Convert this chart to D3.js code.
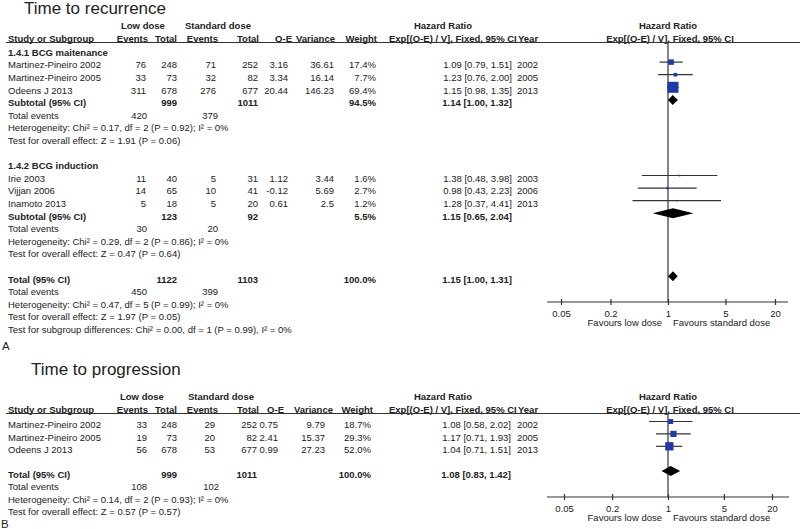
<!DOCTYPE html>
<html><head><meta charset="utf-8">
<script src="https://cdn.jsdelivr.net/npm/d3@7"></script>
<style>body{margin:0;background:#fff}</style>
</head><body>
<svg id="c" width="800" height="529"></svg>
<script>
// ---------- Panel A data: Time to recurrence ----------
const studyA   = ["Martinez-Pineiro 2002","Martinez-Pineiro 2005","Odeens J 2013","Irie 2003","Vijjan 2006","Inamoto 2013"];
const groupA   = [0,0,0,1,1,1];
const lowEvA   = [76,33,311,11,14,5];
const lowTotA  = [248,73,678,40,65,18];
const stdEvA   = [71,32,276,5,10,5];
const stdTotA  = [252,82,677,31,41,20];
const oeA      = ["3.16","3.34","20.44","1.12","-0.12","0.61"];
const varA     = ["36.61","16.14","146.23","3.44","5.69","2.5"];
const weightA  = [17.4,7.7,69.4,1.6,2.7,1.2];
const hrA      = [1.09,1.23,1.15,1.38,0.98,1.28];
const loA      = [0.79,0.76,0.98,0.48,0.43,0.37];
const hiA      = [1.51,2.00,1.35,3.98,2.23,4.41];
const yearA    = [2002,2005,2013,2003,2006,2013];
const subNameA   = ["1.4.1 BCG maitenance","1.4.2 BCG induction"];
const subLowTotA = [999,123];
const subStdTotA = [1011,92];
const subWeightA = [94.5,5.5];
const subHrA     = [1.14,1.15];
const subLoA     = [1.00,0.65];
const subHiA     = [1.32,2.04];
const subLowEvA  = [420,30];
const subStdEvA  = [379,20];
const subHetA    = ["Heterogeneity: Chi² = 0.17, df = 2 (P = 0.92); I² = 0%","Heterogeneity: Chi² = 0.29, df = 2 (P = 0.86); I² = 0%"];
const subTestA   = ["Test for overall effect: Z = 1.91 (P = 0.06)","Test for overall effect: Z = 0.47 (P = 0.64)"];
const totTotalsA = [1122,1103];
const totEventsA = [450,399];
const totHrA     = [1.15,1.00,1.31];
const totWeightA = 100.0;
const totTextA   = ["Heterogeneity: Chi² = 0.47, df = 5 (P = 0.99); I² = 0%","Test for overall effect: Z = 1.97 (P = 0.05)","Test for subgroup differences: Chi² = 0.00, df = 1 (P = 0.99), I² = 0%"];

// ---------- Panel B data: Time to progression ----------
const studyB   = ["Martinez-Pineiro 2002","Martinez-Pineiro 2005","Odeens J 2013"];
const lowEvB   = [33,19,56];
const lowTotB  = [248,73,678];
const stdEvB   = [29,20,53];
const stdTotB  = [252,82,677];
const oeB      = ["0.75","2.41","0.99"];
const varB     = ["9.79","15.37","27.23"];
const weightB  = [18.7,29.3,52.0];
const hrB      = [1.08,1.17,1.04];
const loB      = [0.58,0.71,0.71];
const hiB      = [2.02,1.93,1.51];
const yearB    = [2002,2005,2013];
const totTotalsB = [999,1011];
const totEventsB = [108,102];
const totHrB     = [1.08,0.83,1.42];
const totWeightB = 100.0;
const totTextB   = ["Heterogeneity: Chi² = 0.14, df = 2 (P = 0.93); I² = 0%","Test for overall effect: Z = 0.57 (P = 0.57)"];

const tickVals = [0.05,0.2,1,5,20];

// ---------- drawing ----------
const svg = d3.select("#c");
const FONT = "'Liberation Sans', Arial, Helvetica, sans-serif";
const INK = "#222", LINE = "#333", BLUE = "#1f3aa6";
const f2 = d3.format(".2f");
const hrText = (h,l,u) => `${f2(h)} [${f2(l)}, ${f2(u)}]`;
const wText = w => d3.format(".1f")(w) + "%";

function txt(x, y, s, o = {}) {
  return svg.append("text").attr("x", x).attr("y", y).attr("dy", "0.35em")
    .attr("text-anchor", o.anchor || "start")
    .attr("font-weight", o.bold ? "bold" : "normal")
    .attr("font-size", o.size || 9.5)
    .attr("font-family", FONT).attr("fill", INK).text(s);
}

function header(L) {
  const c = L.hc;
  txt(L.lowX, L.h1, "Low dose", {bold:true});
  txt(L.stdX, L.h1, "Standard dose", {bold:true});
  txt(443, L.h1, "Hazard Ratio", {bold:true, anchor:"middle"});
  txt(668, L.h1, "Hazard Ratio", {bold:true, anchor:"middle"});
  txt(8, L.h2, "Study or Subgroup", {bold:true});
  txt(c.lowEv, L.h2, "Events", {bold:true, anchor:"end"});
  txt(c.lowTot, L.h2, "Total", {bold:true, anchor:"end"});
  txt(c.stdEv, L.h2, "Events", {bold:true, anchor:"end"});
  txt(c.stdTot, L.h2, "Total", {bold:true, anchor:"end"});
  txt(c.oe, L.h2, "O-E", {bold:true, anchor:"end"});
  txt(c.vr, L.h2, "Variance", {bold:true, anchor:"end"});
  txt(c.w, L.h2, "Weight", {bold:true, anchor:"end"});
  txt(389, L.h2, "Exp[(O-E) / V], Fixed, 95% CI", {bold:true});
  txt(518, L.h2, "Year", {bold:true});
  txt(670, L.h2, "Exp[(O-E) / V], Fixed, 95% CI", {bold:true, anchor:"middle"});
  svg.append("line").attr("x1", 6).attr("x2", 800).attr("y1", L.rule).attr("y2", L.rule)
    .attr("stroke", LINE).attr("stroke-width", 1.1);
}

function studyRow(L, x, y, d) {
  const c = L.col;
  txt(8, y, d.name);
  txt(c.lowEv, y, d.lowEv, {anchor:"end"});
  txt(c.lowTot, y, d.lowTot, {anchor:"end"});
  txt(c.stdEv, y, d.stdEv, {anchor:"end"});
  txt(c.stdTot, y, d.stdTot, {anchor:"end"});
  txt(c.oe, y, d.oe, {anchor:"end"});
  txt(c.vr, y, d.vr, {anchor:"end"});
  txt(c.w, y, wText(d.w), {anchor:"end"});
  txt(c.hr, y, hrText(d.hr, d.lo, d.hi), {anchor:"end"});
  txt(c.yr, y, d.year);
  const ym = y + L.markOff;
  svg.append("line").attr("x1", x(d.lo)).attr("x2", x(d.hi)).attr("y1", ym).attr("y2", ym)
    .attr("stroke", LINE).attr("stroke-width", 1.2);
  const s = L.sq(d.w);
  svg.append("rect").attr("x", x(d.hr) - s/2).attr("y", ym - s/2).attr("width", s).attr("height", s)
    .attr("fill", BLUE);
}

function pooledRow(L, x, y, label, lowTot, stdTot, w, h, l, u) {
  const c = L.col;
  txt(8, y, label, {bold:true});
  txt(c.lowTot, y, lowTot, {bold:true, anchor:"end"});
  txt(c.stdTot, y, stdTot, {bold:true, anchor:"end"});
  txt(c.w, y, wText(w), {bold:true, anchor:"end"});
  txt(c.hr, y, hrText(h, l, u), {bold:true, anchor:"end"});
  const ym = y + L.markOff, hh = 5;
  svg.append("path")
    .attr("d", `M${x(l)},${ym}L${x(h)},${ym-hh}L${x(u)},${ym}L${x(h)},${ym+hh}Z`)
    .attr("fill", "#000");
}

function eventsRow(L, y, a, b) {
  txt(8, y, "Total events");
  txt(L.col.evTotLow, y, a, {anchor:"end"});
  txt(L.col.evTotStd, y, b, {anchor:"end"});
}

function axis(L, x) {
  svg.append("line").attr("x1", x(1)).attr("x2", x(1)).attr("y1", L.rule).attr("y2", L.axisY)
    .attr("stroke", LINE).attr("stroke-width", 1.2);
  const g = svg.append("g").attr("transform", `translate(0,${L.axisY})`)
    .call(d3.axisBottom(x).tickValues(tickVals).tickFormat(d => String(d))
      .tickSize(3).tickPadding(5).tickSizeOuter(0));
  g.select(".domain").attr("d", `M${L.axisExt[0]},0H${L.axisExt[1]}`)
    .attr("stroke", LINE).attr("stroke-width", 1.2);
  g.selectAll(".tick line").attr("y1", -3).attr("y2", 3).attr("stroke", LINE).attr("stroke-width", 1.2);
  g.selectAll(".tick text").attr("font-family", FONT).attr("font-size", 9.5).attr("fill", INK);
  txt(x(1) - 6, L.axisY + 21, "Favours low dose", {anchor:"end"});
  txt(x(1) + 5, L.axisY + 21, "Favours standard dose");
}

// ---------- Panel A ----------
const LA = {
  lowX:121, stdX:185, h1:26, h2:38.5, rule:42.5, axisY:302, axisExt:[547,788], markOff:-3,
  hc:{lowEv:148, lowTot:177, stdEv:218, stdTot:259, oe:292, vr:335, w:377},
  col:{lowEv:146, lowTot:177, stdEv:216, stdTot:258, oe:288, vr:334, w:376, hr:512, yr:517, evTotLow:147, evTotStd:218},
  sq: d3.scaleSqrt().domain([0,100]).range([0,13.2])
};
const xA = d3.scaleLog().domain([0.05,20]).range([561,775]);
const rowA = i => 52.5 + 12.6 * i;

svg.append("text").attr("x", 24).attr("y", 14).attr("font-family", FONT).attr("font-size", 17)
  .attr("fill", INK).text("Time to recurrence");
header(LA);
axis(LA, xA);

let r = 0;
subNameA.forEach((name, g) => {
  txt(8, rowA(r), name, {bold:true}); r++;
  studyA.forEach((s, j) => {
    if (groupA[j] !== g) return;
    studyRow(LA, xA, rowA(r), {name:s, lowEv:lowEvA[j], lowTot:lowTotA[j], stdEv:stdEvA[j], stdTot:stdTotA[j],
      oe:oeA[j], vr:varA[j], w:weightA[j], hr:hrA[j], lo:loA[j], hi:hiA[j], year:yearA[j]});
    r++;
  });
  pooledRow(LA, xA, rowA(r), "Subtotal (95% CI)", subLowTotA[g], subStdTotA[g], subWeightA[g], subHrA[g], subLoA[g], subHiA[g]); r++;
  eventsRow(LA, rowA(r), subLowEvA[g], subStdEvA[g]); r++;
  txt(8, rowA(r), subHetA[g]); r++;
  txt(8, rowA(r), subTestA[g]); r++;
  r++;
});
pooledRow(LA, xA, rowA(r), "Total (95% CI)", totTotalsA[0], totTotalsA[1], totWeightA, totHrA[0], totHrA[1], totHrA[2]); r++;
eventsRow(LA, rowA(r), totEventsA[0], totEventsA[1]); r++;
totTextA.forEach(t => { txt(8, rowA(r), t); r++; });
txt(2, 346, "A", {size:11.5});

// ---------- Panel B ----------
const LB = {
  lowX:120, stdX:188, h1:397, h2:410, rule:413.5, axisY:497, axisExt:[547,789], markOff:-3.5,
  hc:{lowEv:148, lowTot:177, stdEv:218, stdTot:259, oe:284, vr:333, w:373},
  col:{lowEv:147, lowTot:177, stdEv:215, stdTot:257, oe:278, vr:325, w:371, hr:511, yr:517, evTotLow:147, evTotStd:219},
  sq: d3.scaleSqrt().domain([0,100]).range([0,11.5])
};
const xB = d3.scaleLog().domain([0.05,20]).range([564,772]);
const rowB = i => 425 + 12.4 * i;

svg.append("text").attr("x", 31).attr("y", 375).attr("font-family", FONT).attr("font-size", 17)
  .attr("fill", INK).text("Time to progression");
header(LB);
axis(LB, xB);
studyB.forEach((s, j) => {
  studyRow(LB, xB, rowB(j), {name:s, lowEv:lowEvB[j], lowTot:lowTotB[j], stdEv:stdEvB[j], stdTot:stdTotB[j],
    oe:oeB[j], vr:varB[j], w:weightB[j], hr:hrB[j], lo:loB[j], hi:hiB[j], year:yearB[j]});
});
pooledRow(LB, xB, rowB(4), "Total (95% CI)", totTotalsB[0], totTotalsB[1], totWeightB, totHrB[0], totHrB[1], totHrB[2]);
eventsRow(LB, rowB(5), totEventsB[0], totEventsB[1]);
txt(8, rowB(6), totTextB[0]);
txt(8, rowB(7), totTextB[1]);
txt(1, 524, "B", {size:11.5});
</script>
</body></html>
